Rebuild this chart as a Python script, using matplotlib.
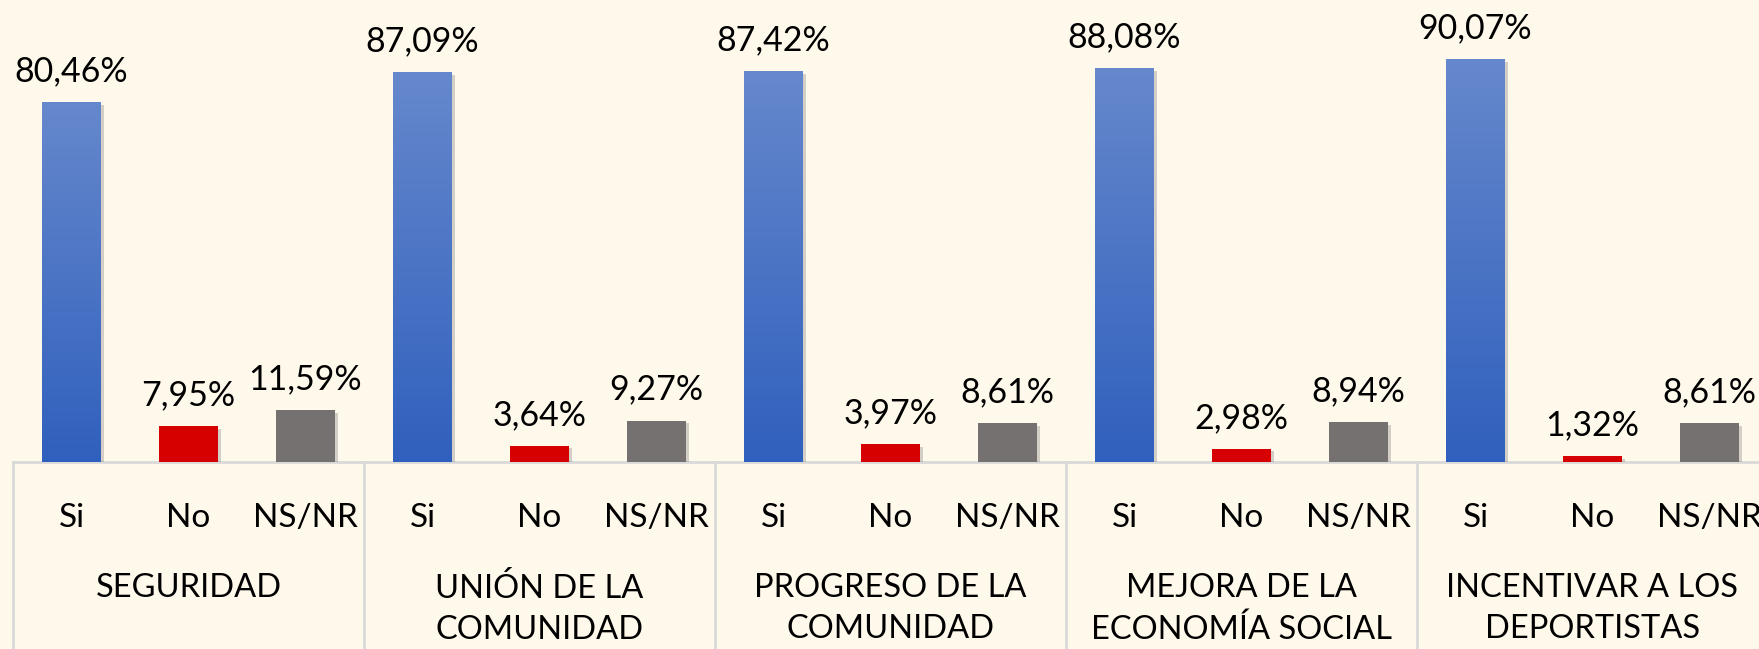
import numpy as np
import matplotlib.pyplot as plt
import matplotlib.patheffects as pe
from matplotlib.colors import LinearSegmentedColormap

grupos = ["SEGURIDAD", "UNIÓN DE LA\nCOMUNIDAD", "PROGRESO DE LA\nCOMUNIDAD",
          "MEJORA DE LA\nECONOMÍA SOCIAL", "INCENTIVAR A LOS\nDEPORTISTAS"]
respuestas = ["Si", "No", "NS/NR"]
si = [80.46, 87.09, 87.42, 88.08, 90.07]
no = [7.95, 3.64, 3.97, 2.98, 1.32]
nsnr = [11.59, 9.27, 8.61, 8.94, 8.61]

fondo = "#FFF9EC"
rojo = "#D60000"
gris = "#767171"
linea = "#D9D9D9"
azul = LinearSegmentedColormap.from_list("azul", ["#3060BD", "#6688CC"])

plt.rcParams['font.family'] = ['Lato', 'DejaVu Sans']

W, H = 1759, 649
base_px = 462
fig = plt.figure(figsize=(W / 100, H / 100), dpi=100, facecolor=fondo)
ax = fig.add_axes([0, (H - base_px) / H, 1, base_px / H])
ax.set_facecolor(fondo)

sombra = [pe.SimplePatchShadow(offset=(2, -2), alpha=0.25, shadow_rgbFace="#555555"), pe.Normal()]

ancho = 0.5
for g in range(len(grupos)):
    valores = [si[g], no[g], nsnr[g]]
    for k, v in enumerate(valores):
        x = g * 3 + k
        color = ["#4A74C6", rojo, gris][k]
        b = ax.bar(x, v, width=ancho, color=color, zorder=2)[0]
        b.set_path_effects(sombra)
        if k == 0:
            grad = np.linspace(0, 1, 256).reshape(-1, 1)
            im = ax.imshow(grad, extent=[x - ancho / 2, x + ancho / 2, 0, v], origin="lower",
                           aspect="auto", cmap=azul, zorder=3)
            im.set_clip_path(b)
        ax.annotate(f"{v:.2f}%".replace(".", ","), (x, v), xytext=(0, 15), textcoords="offset points",
                    ha="center", va="baseline", fontsize=24.5, color="black", zorder=4)

unidad = 117
xmin = -0.5 - 13 / unidad
xmax = -0.5 + (W - 13) / unidad
ax.set_xlim(xmin, xmax)
ax.set_ylim(0, base_px / 4.475)
ax.axis("off")

tr = ax.get_xaxis_transform()
abajo = -(H - base_px) / base_px
ax.plot([-0.5, xmax], [0, 0], transform=tr, color=linea, lw=2, clip_on=False, zorder=1)
for g in range(len(grupos) + 1):
    xs = g * 3 - 0.5
    ax.plot([xs, xs], [0, abajo], transform=tr, color=linea, lw=2, clip_on=False, zorder=1)

for g, nombre in enumerate(grupos):
    for k, r in enumerate(respuestas):
        ax.text(g * 3 + k, -56 / base_px, r, transform=tr, ha="center", va="center",
                fontsize=24, color="black")
    ax.text(g * 3 + 1, -111 / base_px, nombre, transform=tr, ha="center", va="top",
            fontsize=23.5, color="black", linespacing=1.47)

fig.savefig("out.png", dpi=100, facecolor=fondo)
